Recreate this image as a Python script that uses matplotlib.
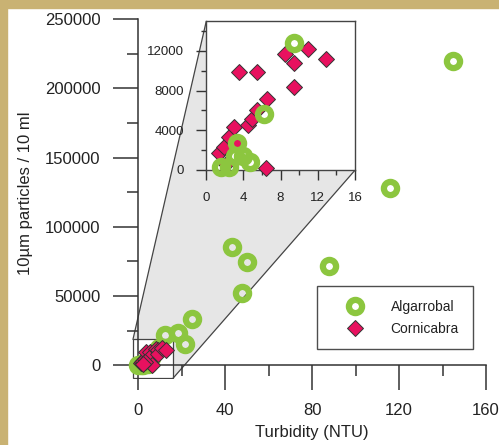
import matplotlib.pyplot as plt
from matplotlib.patches import Polygon, Rectangle
from matplotlib.ticker import MultipleLocator

plt.rcParams['font.family'] = ['Liberation Sans', 'DejaVu Sans']

# === DATA ===
# Algarrobal, large values (main panel only)
alg_x = [145, 116, 88, 43, 50, 48, 25, 12.4, 18.5, 21.6, 0]
alg_y = [220000, 128000, 72000, 85500, 74500, 52000, 33700, 21900, 23100, 15400, 0]
# Algarrobal, small values (seen in the zoom)
alg_sx = [1.6, 2.5, 3.1, 3.3, 4.0, 4.7, 6.2, 9.5]
alg_sy = [300, 350, 1400, 2700, 1450, 850, 5600, 12800]
# Cornicabra
cor_x = [1.4, 1.9, 2.5, 3.0, 3.5, 4.5, 4.9, 5.5, 5.5, 6.6, 6.4, 8.5, 9.4, 9.4, 11.0, 12.9, 3.1, 2.2]
cor_y = [1700, 2300, 3300, 4300, 9900, 4500, 5100, 6000, 9900, 7100, 200, 11700, 10800, 8400, 12200, 11200, 2700, 600]

x_ticks = [0, 40, 80, 120, 160]
y_ticks = [0, 50000, 100000, 150000, 200000, 250000]
zx_ticks = [0, 4, 8, 12, 16]
zy_ticks = [0, 4000, 8000, 12000]

green = '#8cc63f'
pink = '#e8115f'
dark = '#333333'

W, H = 499, 445
fig = plt.figure(figsize=(W / 100, H / 100), dpi=100)
fig.patch.set_facecolor('white')

def fbox(x0, y0, x1, y1):
    # pixel box (top-left origin) -> figure fraction [l, b, w, h]
    return [x0 / W, 1 - y1 / H, (x1 - x0) / W, (y1 - y0) / H]

# golden frame on top and left
fig.patches.append(Rectangle((0, 1 - 8 / H), 1, 8 / H, transform=fig.transFigure,
                             color='#c9b273', zorder=0))
fig.patches.append(Rectangle((0, 0), 7 / W, 1, transform=fig.transFigure,
                             color='#c9b273', zorder=0))

# === MAIN AXES ===
ax = fig.add_axes(fbox(129.3, 19.3, 486, 379.1))
ax.set_xlim(-4, 160)
ax.set_ylim(-10000, 250000)
ax.patch.set_alpha(0)
for s in ['top', 'right']:
    ax.spines[s].set_visible(False)
ax.spines['left'].set_position(('data', 0))
ax.spines['bottom'].set_position(('data', 0))
ax.spines['left'].set_bounds(0, 250000)
ax.spines['bottom'].set_bounds(0, 160)
for s in ['left', 'bottom']:
    ax.spines[s].set_color(dark)
    ax.spines[s].set_linewidth(1.1)
ax.set_xticks(x_ticks)
ax.set_yticks(y_ticks)
ax.xaxis.set_minor_locator(MultipleLocator(20))
ax.yaxis.set_minor_locator(MultipleLocator(25000))
ax.tick_params(which='major', direction='out', length=18, width=1.1, color=dark,
               labelsize=12, labelcolor='#222222', pad=9)
ax.tick_params(which='minor', direction='out', length=8, width=1.1, color=dark)

# zoom rectangle and connecting shaded band
rx0, rx1, ry0, ry1 = -2.3, 16.1, -9400, 18800
itl = (31.3, 248000)
ibr = (99.8, 141000)
band = Polygon([(rx0, ry1), itl, ibr, (rx1, ry0), (rx1, ry1)], closed=True,
               facecolor='#e6e6e6', edgecolor='none', zorder=1)
ax.add_patch(band)
ax.plot([rx0, itl[0]], [ry1, itl[1]], color='#444444', lw=0.9, zorder=1.5)
ax.plot([rx1, ibr[0]], [ry0, ibr[1]], color='#444444', lw=0.9, zorder=1.5)
ax.add_patch(Rectangle((rx0, ry0), rx1 - rx0, ry1 - ry0, facecolor='none',
                       edgecolor='#444444', lw=0.9, zorder=1.5))

ax.plot(alg_x + alg_sx, alg_y + alg_sy, 'o', ms=9.5, mfc='none', mec=green, mew=4.5,
        zorder=3, clip_on=False, label='Algarrobal')
ax.plot(cor_x, cor_y, 'D', ms=7.8, mfc=pink, mec=dark, mew=0.7,
        zorder=4, clip_on=False, label='Cornicabra')

leg = ax.legend(loc='upper left', bbox_to_anchor=(317 / W, 1 - 286 / H),
                bbox_transform=fig.transFigure, fontsize=10, frameon=True,
                fancybox=False, edgecolor='#222222', borderpad=1.0,
                handlelength=3.4, handletextpad=0.9, labelspacing=0.55,
                borderaxespad=0)
leg.get_frame().set_linewidth(1.0)
for t in leg.get_texts():
    t.set_color('#222222')

fig.text(312 / W, 1 - 433 / H, 'Turbidity (NTU)', ha='center', va='center',
         fontsize=12, color='#222222')
fig.text(26 / W, 1 - 193 / H, '10µm particles / 10 ml', ha='center', va='center',
         rotation=90, fontsize=12, color='#222222')

# === INSET ===
ins = fig.add_axes(fbox(206, 21, 355, 170))
ins.set_xlim(0, 16)
ins.set_ylim(0, 15000)
ins.set_facecolor('white')
for s in ins.spines.values():
    s.set_color('#444444')
    s.set_linewidth(1.0)
ins.set_xticks(zx_ticks)
ins.set_yticks(zy_ticks)
ins.xaxis.set_minor_locator(MultipleLocator(2))
ins.yaxis.set_minor_locator(MultipleLocator(2000))
ins.tick_params(which='major', direction='out', length=7, width=1.0, color=dark,
                labelsize=9.5, labelcolor='#222222', pad=9)
ins.tick_params(which='minor', direction='out', length=3.5, width=1.0, color=dark)
ins.plot(cor_x, cor_y, 'D', ms=7.8, mfc=pink, mec=dark, mew=0.7, zorder=3, clip_on=False)
ins.plot(alg_sx, alg_sy, 'o', ms=9.5, mfc='none', mec=green, mew=4.5, zorder=4,
         clip_on=False)

fig.savefig('out.png', dpi=100)
